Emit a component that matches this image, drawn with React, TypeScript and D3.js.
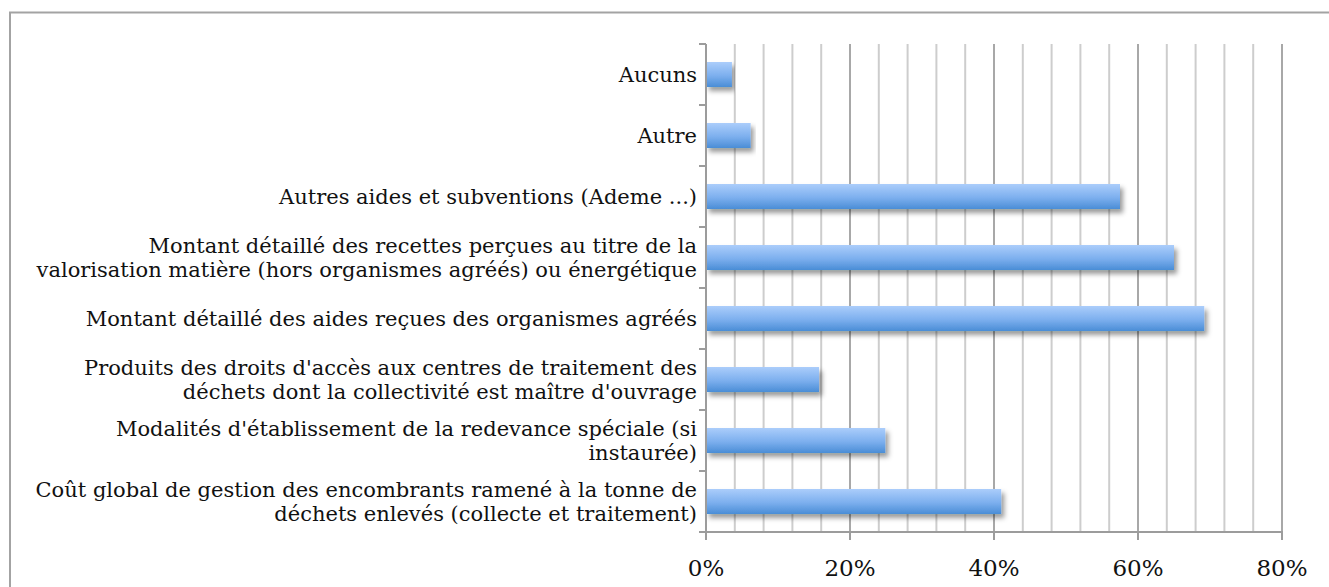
import * as d3 from "d3";
import { useEffect, useRef } from "react";

// categories top to bottom, "\n" marks the line breaks seen in the chart
const categories = [
  "Aucuns",
  "Autre",
  "Autres aides et subventions (Ademe ...)",
  "Montant détaillé des recettes perçues au titre de la\nvalorisation matière (hors organismes agréés) ou énergétique",
  "Montant détaillé des aides reçues des organismes agréés",
  "Produits des droits d'accès aux centres de traitement des\ndéchets dont la collectivité est maître d'ouvrage",
  "Modalités d'établissement de la redevance spéciale (si\ninstaurée)",
  "Coût global de gestion des encombrants ramené à la tonne de\ndéchets enlevés (collecte et traitement)",
];
const values = [0.036, 0.062, 0.575, 0.65, 0.692, 0.157, 0.249, 0.41];
const majorTicks = [0, 0.2, 0.4, 0.6, 0.8];
const gridTicks = d3.range(1, 21).map((i) => i * 0.04);

const W = 1329;
const H = 587;
const FONT = "'DejaVu Serif', serif";

export default function App() {
  const svgRef = useRef<SVGSVGElement>(null);

  useEffect(() => {
    if (!svgRef.current) return;
    const svg = d3.select(svgRef.current);
    svg.selectAll("*").remove();

    const left = 706;
    const right = 1282;
    const top = 44;
    const bottom = 532;

    const x = d3.scaleLinear().domain([0, 0.8]).range([left, right]);
    const y = d3.scaleBand<string>().domain(categories).range([top, bottom]).padding(0);
    const barH = y.bandwidth() * 0.41;

    const defs = svg.append("defs");
    const grad = defs
      .append("linearGradient")
      .attr("id", "barGrad")
      .attr("x1", 0)
      .attr("y1", 0)
      .attr("x2", 0)
      .attr("y2", 1);
    grad.append("stop").attr("offset", "0%").attr("stop-color", "#abcdfb");
    grad.append("stop").attr("offset", "55%").attr("stop-color", "#7cafee");
    grad.append("stop").attr("offset", "100%").attr("stop-color", "#4a8dd6");

    const shadow = defs
      .append("filter")
      .attr("id", "shadow")
      .attr("x", "-5%")
      .attr("y", "-30%")
      .attr("width", "115%")
      .attr("height", "180%");
    shadow
      .append("feDropShadow")
      .attr("dx", 3)
      .attr("dy", 4)
      .attr("stdDeviation", 2.5)
      .attr("flood-color", "#000")
      .attr("flood-opacity", 0.4);

    // outer frame
    svg
      .append("rect")
      .attr("x", 10)
      .attr("y", 12.5)
      .attr("width", W + 20)
      .attr("height", H + 20)
      .attr("fill", "white")
      .attr("stroke", "#a3a3a3")
      .attr("stroke-width", 2);

    // vertical grid
    svg
      .append("g")
      .selectAll("line")
      .data(gridTicks)
      .join("line")
      .attr("x1", (d) => x(d))
      .attr("x2", (d) => x(d))
      .attr("y1", top)
      .attr("y2", bottom)
      .attr("stroke", (_d, i) => ((i + 1) % 5 === 0 ? "#a8a8a8" : "#cdcdcd"))
      .attr("stroke-width", 2);

    // bars
    svg
      .append("g")
      .selectAll("rect")
      .data(values)
      .join("rect")
      .attr("x", x(0))
      .attr("y", (_d, i) => (y(categories[i]) ?? 0) + (y.bandwidth() - barH) / 2)
      .attr("width", (d) => x(d) - x(0))
      .attr("height", barH)
      .attr("fill", "url(#barGrad)")
      .attr("filter", "url(#shadow)");

    // axes
    const axisColor = "#9c9c9c";
    svg
      .append("line")
      .attr("x1", left)
      .attr("x2", left)
      .attr("y1", top)
      .attr("y2", bottom + 8)
      .attr("stroke", axisColor)
      .attr("stroke-width", 2);
    svg
      .append("line")
      .attr("x1", left - 7)
      .attr("x2", right + 1)
      .attr("y1", bottom)
      .attr("y2", bottom)
      .attr("stroke", axisColor)
      .attr("stroke-width", 2);

    const bounds = categories.map((c) => y(c) ?? 0);
    svg
      .append("g")
      .selectAll("line")
      .data(bounds)
      .join("line")
      .attr("x1", left - 7)
      .attr("x2", left)
      .attr("y1", (d) => d)
      .attr("y2", (d) => d)
      .attr("stroke", axisColor)
      .attr("stroke-width", 2);

    svg
      .append("g")
      .selectAll("line")
      .data(majorTicks)
      .join("line")
      .attr("x1", (d) => x(d))
      .attr("x2", (d) => x(d))
      .attr("y1", bottom)
      .attr("y2", bottom + 8)
      .attr("stroke", axisColor)
      .attr("stroke-width", 2);

    // x tick labels
    svg
      .append("g")
      .selectAll("text")
      .data(majorTicks)
      .join("text")
      .attr("x", (d) => x(d))
      .attr("y", 576)
      .attr("text-anchor", "middle")
      .style("font-family", FONT)
      .style("font-size", "23px")
      .attr("fill", "#111")
      .text((d) => d3.format(".0%")(d));

    // category labels
    const lineH = 24;
    const labels = svg
      .append("g")
      .selectAll("text")
      .data(categories)
      .join("text")
      .attr("text-anchor", "end")
      .style("font-family", FONT)
      .style("font-size", "21px")
      .attr("fill", "#111");
    labels.each(function (d) {
      const lines = d.split("\n");
      const cy = (y(d) ?? 0) + y.bandwidth() / 2;
      const t = d3.select(this);
      lines.forEach((ln, i) => {
        t.append("tspan")
          .attr("x", 697)
          .attr("y", cy + (i - (lines.length - 1) / 2) * lineH)
          .attr("dy", "0.35em")
          .text(ln);
      });
    });
  }, []);

  return (
    <svg
      ref={svgRef}
      width={W}
      height={H}
      style={{ position: "absolute", left: 0, top: 0, background: "white" }}
    />
  );
}
